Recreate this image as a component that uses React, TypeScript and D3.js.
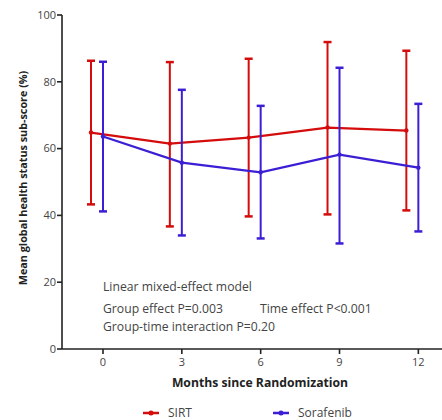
import React from "react";
import * as d3 from "d3";

const months = [0, 3, 6, 9, 12];
const sirtMean = [64.8, 61.5, 63.3, 66.3, 65.4];
const sirtUpper = [86.3, 85.9, 86.9, 91.9, 89.3];
const sirtLower = [43.3, 36.7, 39.7, 40.3, 41.5];
const soraMean = [63.6, 55.8, 52.9, 58.2, 54.3];
const soraUpper = [86.0, 77.6, 72.8, 84.2, 73.4];
const soraLower = [41.2, 34.0, 33.1, 31.6, 35.2];
const yTicks = [0, 20, 40, 60, 80, 100];

const RED = "#d40c0c";
const BLUE = "#3b1fd4";
const FONT = "'Open Sans', 'Liberation Sans', sans-serif";

const width = 442;
const height = 420;

export default function App() {
  const x = d3.scaleLinear().domain([-1.56, 12.9]).range([62, 442]);
  const y = d3.scaleLinear().domain([0, 100]).range([349, 15]);

  const series = [
    { name: "SIRT", color: RED, mean: sirtMean, up: sirtUpper, lo: sirtLower, dx: -12 },
    { name: "Sorafenib", color: BLUE, mean: soraMean, up: soraUpper, lo: soraLower, dx: 0 },
  ];

  return (
    <svg width={width} height={height} style={{ position: "absolute", left: 0, top: 0 }}>
      <rect width={width} height={height} fill="#fff" />

      {series.map((s) => {
        const line = d3
          .line<number>()
          .x((_, i) => x(months[i]) + s.dx)
          .y((d) => y(d));
        return (
          <g key={s.name}>
            {months.map((m, i) => (
              <g key={m} stroke={s.color} strokeWidth={2}>
                <line x1={x(m) + s.dx} x2={x(m) + s.dx} y1={y(s.up[i])} y2={y(s.lo[i])} />
                <line x1={x(m) + s.dx - 4} x2={x(m) + s.dx + 4} y1={y(s.up[i])} y2={y(s.up[i])} strokeWidth={2.5} />
                <line x1={x(m) + s.dx - 4} x2={x(m) + s.dx + 4} y1={y(s.lo[i])} y2={y(s.lo[i])} strokeWidth={2.5} />
              </g>
            ))}
            <path d={line(s.mean) ?? ""} fill="none" stroke={s.color} strokeWidth={2.2} />
            {months.map((m, i) => (
              <circle key={m} cx={x(m) + s.dx} cy={y(s.mean[i])} r={2.2} fill={s.color} />
            ))}
          </g>
        );
      })}

      {/* axes */}
      <g stroke="#222" strokeWidth={1.6}>
        <line x1={x.range()[0]} x2={x.range()[0]} y1={y(100)} y2={y(0)} />
        <line x1={x.range()[0]} x2={x.range()[1]} y1={y(0)} y2={y(0)} />
        {yTicks.map((t) => (
          <line key={t} x1={x.range()[0] - 5} x2={x.range()[0]} y1={y(t)} y2={y(t)} />
        ))}
        {months.map((m) => (
          <line key={m} x1={x(m)} x2={x(m)} y1={y(0)} y2={y(0) + 5} />
        ))}
      </g>
      <g fontFamily={FONT} fontSize={11} fill="#444">
        {yTicks.map((t) => (
          <text key={t} x={x.range()[0] - 6} y={y(t)} dy="0.35em" textAnchor="end">
            {t}
          </text>
        ))}
        {months.map((m) => (
          <text key={m} x={x(m)} y={y(0) + 17} textAnchor="middle">
            {m}
          </text>
        ))}
      </g>

      <text x={260} y={387} textAnchor="middle" fontFamily={FONT} fontSize={12.2} fontWeight="bold" fill="#222">
        Months since Randomization
      </text>
      <text
        transform={`translate(27,178) rotate(-90)`}
        textAnchor="middle"
        fontFamily={FONT}
        fontSize={10.8}
        fontWeight="bold"
        fill="#222"
      >
        Mean global health status sub-score (%)
      </text>

      <g fontFamily={FONT} fontSize={12.2} fill="#444">
        <text x={103} y={291}>Linear mixed-effect model</text>
        <text x={103} y={313}>Group effect P=0.003</text>
        <text x={260} y={313}>Time effect P&lt;0.001</text>
        <text x={103} y={331}>Group-time interaction P=0.20</text>
      </g>

      {/* legend */}
      {series.map((s, i) => {
        const lx = i === 0 ? 143 : 273;
        return (
          <g key={s.name}>
            <line x1={lx} x2={lx + 16} y1={413} y2={413} stroke={s.color} strokeWidth={2.5} />
            <circle cx={lx + 8} cy={413} r={2.5} fill={s.color} />
            <text x={lx + 25} y={413} dy="0.35em" fontFamily={FONT} fontSize={12} fill="#444">
              {s.name}
            </text>
          </g>
        );
      })}
    </svg>
  );
}
